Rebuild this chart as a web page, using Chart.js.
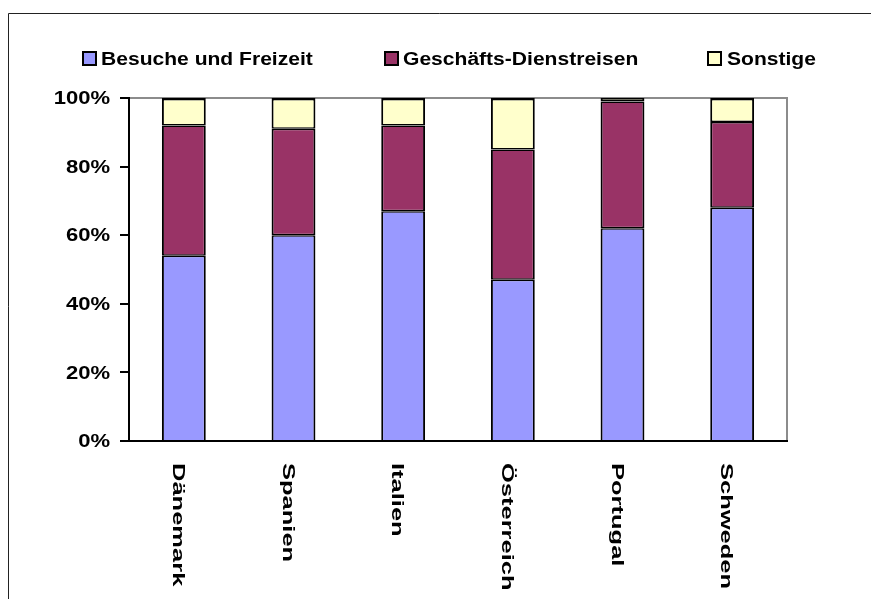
<!DOCTYPE html>
<html>
<head>
<meta charset="utf-8">
<script src="https://cdn.jsdelivr.net/npm/chart.js@4.4.1/dist/chart.umd.min.js"></script>
<style>
  body { margin: 0; background: #fff; }
  canvas { display: block; }
</style>
</head>
<body>
<canvas id="chart" width="871" height="599"></canvas>
<script>
// Data (percent per country)
const categories = ['Dänemark', 'Spanien', 'Italien', 'Österreich', 'Portugal', 'Schweden'];
const besuche = [54, 60, 67, 47, 62, 68];
const geschaefte = [38, 31, 25, 38, 37, 25];
const sonstige = [8, 9, 8, 15, 1, 7];
const seriesNames = ['Besuche und Freizeit', 'Geschäfts-Dienstreisen', 'Sonstige'];
const seriesColors = ['#9999ff', '#993366', '#ffffcc'];
const yTickValues = [0, 20, 40, 60, 80, 100];

const FONT = "'Liberation Sans', Arial, sans-serif";

// Frame, legend and stretched labels
const decoPlugin = {
  id: 'deco',
  beforeDraw(chart) {
    const ctx = chart.ctx;
    const a = chart.chartArea;
    ctx.save();
    ctx.fillStyle = '#fff';
    ctx.fillRect(0, 0, chart.width, chart.height);
    // outer frame (top + left visible)
    ctx.strokeStyle = '#222';
    ctx.lineWidth = 1;
    ctx.beginPath();
    ctx.moveTo(8.5, chart.height);
    ctx.lineTo(8.5, 13.5);
    ctx.lineTo(chart.width, 13.5);
    ctx.stroke();
    // gray plot area border
    ctx.strokeStyle = '#8c8c8c';
    ctx.lineWidth = 2;
    ctx.beginPath();
    ctx.moveTo(a.left, a.top);
    ctx.lineTo(a.right, a.top);
    ctx.lineTo(a.right, a.bottom);
    ctx.stroke();
    ctx.restore();
  },
  afterDraw(chart) {
    const ctx = chart.ctx;
    const xs = chart.scales.x;
    const ys = chart.scales.y;
    ctx.save();

    // legend
    const boxX = [83, 385, 708];
    const textX = [101, 403, 727];
    seriesNames.forEach((name, i) => {
      ctx.fillStyle = seriesColors[i];
      ctx.fillRect(boxX[i], 52, 13, 13);
      ctx.strokeStyle = '#000';
      ctx.lineWidth = 2;
      ctx.strokeRect(boxX[i], 52, 13, 13);
      ctx.save();
      ctx.translate(textX[i], 59);
      ctx.scale(1.17, 1);
      ctx.fillStyle = '#000';
      ctx.font = 'bold 18px ' + FONT;
      ctx.textAlign = 'left';
      ctx.textBaseline = 'middle';
      ctx.fillText(name, 0, 1);
      ctx.restore();
    });

    ctx.fillStyle = '#000';

    // y tick labels
    ys.ticks.forEach(t => {
      const y = ys.getPixelForValue(t.value);
      ctx.save();
      ctx.translate(110, y);
      ctx.scale(1.16, 1);
      ctx.font = 'bold 19px ' + FONT;
      ctx.textAlign = 'right';
      ctx.textBaseline = 'middle';
      ctx.fillText(t.value + '%', 0, 1);
      ctx.restore();
    });

    // x category labels, rotated
    categories.forEach((c, i) => {
      const x = xs.getPixelForValue(i);
      ctx.save();
      ctx.translate(x - 6, 463);
      ctx.rotate(Math.PI / 2);
      ctx.scale(1.5, 1);
      ctx.font = 'bold 17px ' + FONT;
      ctx.textAlign = 'left';
      ctx.textBaseline = 'middle';
      ctx.fillText(c, 0, 0);
      ctx.restore();
    });
    ctx.restore();
  }
};

// black outlines: full width on the sides, split between touching segments
const borders = [
  { left: 2, right: 2, top: 1.5, bottom: 0 },
  { left: 2, right: 2, top: 1.5, bottom: 1.5 },
  { left: 2, right: 2, top: 2.5, bottom: 1.5 }
];

const datasets = [besuche, geschaefte, sonstige].map((d, i) => ({
  label: seriesNames[i],
  data: d,
  backgroundColor: seriesColors[i],
  borderColor: '#000',
  borderWidth: borders[i],
  borderSkipped: false,
  inflateAmount: 0,
  categoryPercentage: 1,
  barPercentage: 0.4
}));

new Chart(document.getElementById('chart'), {
  type: 'bar',
  data: { labels: categories, datasets: datasets },
  options: {
    responsive: false,
    animation: false,
    layout: { padding: { top: 98, right: 84, left: 0, bottom: 0 } },
    plugins: { legend: { display: false }, tooltip: { enabled: false } },
    scales: {
      x: {
        stacked: true,
        grid: { display: false },
        border: { display: true, color: '#000', width: 2 },
        ticks: { display: false },
        afterFit(s) { s.height = 158; }
      },
      y: {
        stacked: true,
        min: 0,
        max: 100,
        afterBuildTicks(s) { s.ticks = yTickValues.map(v => ({ value: v })); },
        grid: { drawOnChartArea: false, drawTicks: true, tickLength: 9, color: '#000', lineWidth: 2 },
        border: { display: true, color: '#000', width: 2 },
        ticks: { display: false },
        afterFit(s) { s.width = 129; }
      }
    }
  },
  plugins: [decoPlugin]
});
</script>
</body>
</html>
